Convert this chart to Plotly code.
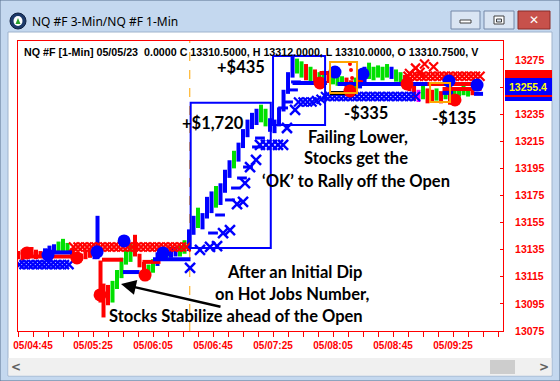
import plotly.graph_objects as go

W, H = 560, 381

# ---------------- data ----------------
x_tick_vals = [10, 50, 90, 130, 170, 210, 250, 290]
x_tick_text = ["05/04:45", "05/05:25", "05/06:05", "05/06:45",
               "05/07:25", "05/08:05", "05/08:45", "05/09:25"]
y_tick_vals = [13075, 13095, 13115, 13135, 13155, 13175, 13195, 13215, 13235, 13255, 13275]
y_tick_text = ["13075", "13095", "13115", "13135", "13155", "13175", "13195", "13215", "13235", "", "13275"]

# 1-min bars (sampled), minutes after 04:35
bar_m = [0, 3, 6, 9, 12, 15, 18, 21, 24, 27, 30, 33, 36, 39, 42, 45, 48, 51, 53,
         55, 57, 60, 63, 66, 69, 72, 75, 78, 81, 84, 87, 90, 93, 96, 99, 102, 105, 108, 111, 114,
         117, 120, 123, 126, 129, 132, 135, 138, 141, 144, 147, 150, 153, 156, 159, 162, 165, 168,
         171, 174, 177, 180, 183, 186, 189, 192, 195, 198, 201, 204, 207, 210, 213, 216, 219, 222,
         225, 228, 231, 234, 237, 240, 243, 246, 249, 252, 255, 258, 261, 264, 267, 270, 273, 276,
         279, 282, 285, 288, 291, 294, 297, 300, 303]
bar_lo = [13128, 13127, 13129, 13130, 13128, 13129, 13130, 13131, 13132, 13133, 13134, 13133, 13130,
          13128, 13127, 13128, 13129, 13128, 13128,
          13096, 13085, 13094, 13096, 13106, 13114, 13124, 13126, 13130, 13122, 13114, 13113, 13118,
          13123, 13127, 13128, 13129, 13130, 13130, 13132, 13134,
          13146, 13151, 13150, 13158, 13162, 13166, 13168, 13177, 13188, 13195, 13200, 13210, 13218,
          13224, 13227, 13229, 13226, 13222,
          13221, 13226, 13237, 13250, 13262, 13265, 13262, 13260, 13259, 13258, 13256, 13257, 13258,
          13257, 13256, 13257, 13252, 13249,
          13251, 13254, 13258, 13261, 13260, 13262, 13260, 13262, 13261, 13259, 13258, 13255, 13252,
          13245, 13244, 13246, 13243, 13244,
          13245, 13243, 13246, 13242, 13244, 13248, 13249, 13248, 13249]
bar_hi = [13134, 13135, 13136, 13137, 13135, 13134, 13136, 13138, 13139, 13141, 13143, 13140, 13136,
          13133, 13132, 13134, 13135, 13134, 13160,
          13127, 13110, 13109, 13112, 13120, 13129, 13135, 13140, 13146, 13132, 13126, 13124, 13128,
          13133, 13135, 13136, 13137, 13137, 13138, 13142, 13150,
          13160, 13166, 13162, 13174, 13178, 13182, 13184, 13194, 13201, 13208, 13214, 13224, 13231,
          13236, 13239, 13242, 13239, 13232,
          13231, 13240, 13253, 13266, 13279, 13276, 13274, 13272, 13270, 13268, 13266, 13267, 13266,
          13264, 13265, 13263, 13262, 13260,
          13262, 13264, 13270, 13273, 13270, 13271, 13270, 13272, 13270, 13268, 13266, 13264, 13262,
          13256, 13253, 13256, 13254, 13253,
          13254, 13252, 13255, 13251, 13253, 13255, 13256, 13254, 13255]
bar_col = list("rrrrrrbbbgggrrrrrbb"
               "rrrgggggrrrggbbgbbgg"
               "bbgbbbgbbbgbbbbbgg"
               "bbbbbbggrgrggrgggrr"
               "gbbgggggbggrrrmgrrgrgrggggrg")

# 3-min bands (X markers)
blue_band1_m = [1, 4, 7, 10, 13, 16, 19, 22, 25, 28, 31, 34]
blue_band1_p = [13124, 13124, 13124, 13124, 13124, 13124, 13124, 13124, 13124, 13124, 13124, 13124]
red_band1_m = [37, 40, 43, 46, 49, 52, 55, 58, 61, 64, 67, 70, 73, 76, 79, 82, 85, 88, 91, 94,
               97, 100, 103, 106, 109, 112]
red_band1_p = [13137, 13137, 13137, 13137, 13137, 13137, 13137, 13137, 13137, 13137, 13137, 13137,
               13137, 13137, 13137, 13137, 13137, 13137, 13137, 13137, 13137, 13137, 13137, 13137,
               13137, 13137]
blue_band2_m = [187, 190, 193, 196, 199, 202, 205, 208, 211, 214, 217, 220, 223, 226, 229, 232,
                235, 238, 241, 244, 247, 250, 253, 256, 259, 262, 265]
blue_band2_p = [13244, 13244, 13244, 13244, 13245, 13246, 13248, 13248, 13248, 13248, 13248, 13248,
                13248, 13248, 13248, 13248, 13248, 13248, 13248, 13248, 13248, 13248, 13248, 13248,
                13248, 13248, 13248]
red_band2_m = [260, 263, 266, 269, 272, 275, 278, 281, 284, 287, 290, 293, 296, 299, 302, 305, 308]
red_band2_p = [13263, 13263, 13263, 13263, 13263, 13263, 13263, 13263, 13263, 13263, 13263, 13263,
               13263, 13263, 13263, 13263, 13263]
red_x_m = [261, 265, 268, 271, 277]
red_x_p = [13265, 13269, 13266, 13272, 13270]

# sparse 3-min X markers in the rally
blue_x_m = [114.7, 121.3, 128, 132.7, 136.7, 141.3, 146, 150, 151.3, 154.7, 158.7, 161.3, 165.3,
            169.3, 173.3, 176.7, 179.3, 184.7]
blue_x_p = [13121.5, 13134.8, 13137, 13137.7, 13147.3, 13149.5, 13168.7, 13170.2, 13184.2, 13196,
            13201.2, 13212.3, 13212.3, 13212.3, 13212.3, 13212.3, 13224.8, 13238.1]

# small blue trailing dashes
blue_dash_m = [130, 134.7, 141.3, 145.3, 149.3, 153.3, 159.3, 161.3, 176.7, 180, 183.3, 185.3]
blue_dash_p = [13147.3, 13160.6, 13171.7, 13180.5, 13187.9, 13196, 13210.8, 13217.4, 13239.6,
               13244, 13252.9, 13258.8]

# horizontal ribbon segments: start, end, level
red_seg_m0 = [8, 56, 83, 201, 226, 268, 283]
red_seg_m1 = [40, 70, 95, 210, 230, 308, 309]
red_seg_p = [13130, 13127.6, 13126, 13265.4, 13258.8, 13257.3, 13253.6]
blue_seg_m0 = [23, 70, 90, 183, 213, 283, 304]
blue_seg_m1 = [36, 81, 115, 206, 273, 290, 310]
blue_seg_p = [13133, 13118.5, 13128, 13258, 13257.3, 13250.7, 13250]
black_seg_m0 = [208, 285]
black_seg_m1 = [225, 291]
black_seg_p = [13250.6, 13258.8]

# big dots
red_dot_m = [6, 39.3, 54.7, 84.7, 201.3, 221.3, 259.3, 291.3]
red_dot_p = [13132.6, 13128.9, 13101.6, 13116.3, 13258.0, 13252.1, 13257.3, 13245.5]
blue_dot_m = [20, 52.7, 70.7, 96.7, 211.3, 230, 287.3, 306]
blue_dot_p = [13131.1, 13133.4, 13141.5, 13132.6, 13266.1, 13264.7, 13259.5, 13256.5]
small_red_m = [221.3, 222, 222.7]
small_red_p = [13272, 13267.6, 13261.7]

# boxes (data coords)
blue_box_m0 = [115.1, 170]
blue_box_m1 = [168.5, 204.7]
blue_box_p0 = [13136.3, 13227]
blue_box_p1 = [13243.5, 13278]
orange_box_m0 = [208, 274.7]
orange_box_m1 = [226, 288]
orange_box_p0 = [13250.6, 13244]
orange_box_p1 = [13273.5, 13258]
open_m = 114.5

header = "NQ #F [1-Min] 05/05/23  0.0000 C 13310.5000, H 13312.0000, L 13310.0000, O 13310.7500, V"
last_price = "13255.4"

# ---------------- figure ----------------
COL = {"r": "#ff0000", "g": "#00e000", "b": "#0000ff", "m": "#ff00ff"}

fig = go.Figure()


def fx(px):
    return px / W


def fy(py):
    return 1 - py / H


# bars grouped by colour
for c in ["g", "r", "b", "m"]:
    xs, ys = [], []
    for m, lo, hi, cc in zip(bar_m, bar_lo, bar_hi, bar_col):
        if cc == c:
            xs += [m, m, None]
            ys += [lo, hi, None]
    fig.add_trace(go.Scatter(x=xs, y=ys, mode="lines", line=dict(color=COL[c], width=4),
                             hoverinfo="skip", showlegend=False))

# bands
for mm, pp, col in [(blue_band1_m, blue_band1_p, "#0000ff"), (red_band1_m, red_band1_p, "#ff0000"),
                    (blue_band2_m, blue_band2_p, "#0000ff"), (red_band2_m, red_band2_p, "#ff0000")]:
    fig.add_trace(go.Scatter(x=mm, y=pp, mode="markers",
                             marker=dict(symbol="x-thin-open", size=9, color=col,
                                         line=dict(width=2.2, color=col)),
                             hoverinfo="skip", showlegend=False))
fig.add_trace(go.Scatter(x=red_x_m, y=red_x_p, mode="markers",
                         marker=dict(symbol="x-thin-open", size=9, color="#ff0000",
                                     line=dict(width=2.2, color="#ff0000")),
                         hoverinfo="skip", showlegend=False))


# ribbons
def segs(m0, m1, p):
    xs, ys = [], []
    for a, b, v in zip(m0, m1, p):
        xs += [a, b, None]
        ys += [v, v, None]
    return xs, ys


for m0, m1, p, col in [(red_seg_m0, red_seg_m1, red_seg_p, "#ff0000"),
                       (blue_seg_m0, blue_seg_m1, blue_seg_p, "#0000ff"),
                       (black_seg_m0, black_seg_m1, black_seg_p, "#000000")]:
    xs, ys = segs(m0, m1, p)
    fig.add_trace(go.Scatter(x=xs, y=ys, mode="lines", line=dict(color=col, width=4),
                             hoverinfo="skip", showlegend=False))

fig.add_trace(go.Scatter(x=blue_dash_m, y=blue_dash_p, mode="markers",
                         marker=dict(symbol="line-ew-open", size=7, color="#0000ff",
                                     line=dict(width=3, color="#0000ff")),
                         hoverinfo="skip", showlegend=False))
fig.add_trace(go.Scatter(x=blue_x_m, y=blue_x_p, mode="markers",
                         marker=dict(symbol="x-thin-open", size=10, color="#0000ff",
                                     line=dict(width=2.5, color="#0000ff")),
                         hoverinfo="skip", showlegend=False))
fig.add_trace(go.Scatter(x=red_dot_m, y=red_dot_p, mode="markers",
                         marker=dict(symbol="circle", size=13, color="#ff0000"),
                         hoverinfo="skip", showlegend=False))
fig.add_trace(go.Scatter(x=blue_dot_m, y=blue_dot_p, mode="markers",
                         marker=dict(symbol="circle", size=13, color="#0000ff"),
                         hoverinfo="skip", showlegend=False))
fig.add_trace(go.Scatter(x=small_red_m, y=small_red_p, mode="markers",
                         marker=dict(symbol="circle", size=4, color="#ff0000"),
                         hoverinfo="skip", showlegend=False))

shapes = []
# window chrome
shapes.append(dict(type="rect", xref="paper", yref="paper", x0=0, x1=1, y0=0, y1=1,
                   fillcolor="#c4d8ef", line=dict(color="#59708f", width=1), layer="below"))
shapes.append(dict(type="rect", xref="paper", yref="paper", x0=fx(8), x1=fx(552), y0=fy(376), y1=fy(32),
                   fillcolor="#ffffff", line=dict(color="#9fb3cc", width=1), layer="below"))
# scrollbar
shapes.append(dict(type="rect", xref="paper", yref="paper", x0=fx(8.5), x1=fx(551.5), y0=fy(375.5), y1=fy(358),
                   fillcolor="#f0f0f0", line=dict(width=0), layer="below"))
shapes.append(dict(type="rect", xref="paper", yref="paper", x0=fx(490), x1=fx(515), y0=fy(374), y1=fy(360),
                   fillcolor="#cdcdcd", line=dict(width=0), layer="below"))
# title bar icon
shapes.append(dict(type="circle", xref="paper", yref="paper", x0=fx(10), x1=fx(26), y0=fy(29), y1=fy(13),
                   fillcolor="#1d3a6a", line=dict(color="#0f2040", width=1), layer="below"))
shapes.append(dict(type="circle", xref="paper", yref="paper", x0=fx(13.5), x1=fx(22.5), y0=fy(26), y1=fy(16),
                   fillcolor="#ffffff", line=dict(width=0), layer="below"))
shapes.append(dict(type="path", xref="paper", yref="paper",
                   path=f"M {fx(18)} {fy(18)} L {fx(15.5)} {fy(24)} L {fx(20.5)} {fy(24)} Z",
                   fillcolor="#2aa02a", line=dict(width=0), layer="below"))
# buttons
for x0, x1, fc, lc in [(451, 480, "#dae5f3", "#7488a8"), (484, 514, "#dae5f3", "#7488a8"),
                       (518, 550, "#c7514b", "#8a2c28")]:
    shapes.append(dict(type="rect", xref="paper", yref="paper", x0=fx(x0), x1=fx(x1), y0=fy(29), y1=fy(11),
                       fillcolor=fc, line=dict(color=lc, width=1), layer="below"))
shapes.append(dict(type="rect", xref="paper", yref="paper", x0=fx(460), x1=fx(471), y0=fy(23), y1=fy(20),
                   fillcolor="#ffffff", line=dict(color="#404040", width=1), layer="below"))
shapes.append(dict(type="rect", xref="paper", yref="paper", x0=fx(494), x1=fx(504), y0=fy(24), y1=fy(16),
                   fillcolor="#ffffff", line=dict(color="#404040", width=1), layer="below"))
shapes.append(dict(type="rect", xref="paper", yref="paper", x0=fx(496.5), x1=fx(501.5), y0=fy(22), y1=fy(19),
                   fillcolor="#dae5f3", line=dict(color="#404040", width=1), layer="below"))
# price labels at right axis
shapes.append(dict(type="rect", xref="paper", yref="paper", x0=fx(505), x1=fx(552), y0=fy(79), y1=fy(70),
                   fillcolor="#ff0000", line=dict(width=0)))
shapes.append(dict(type="rect", xref="paper", yref="paper", x0=fx(505), x1=fx(552), y0=fy(101), y1=fy(96),
                   fillcolor="#0000ff", line=dict(width=0)))
shapes.append(dict(type="rect", xref="paper", yref="paper", x0=fx(505), x1=fx(552), y0=fy(97), y1=fy(95),
                   fillcolor="#ff0000", line=dict(width=0)))
shapes.append(dict(type="rect", xref="paper", yref="paper", x0=fx(505), x1=fx(552), y0=fy(95), y1=fy(78),
                   fillcolor="#0000ff", line=dict(width=0)))
# boxes
for a, b, c, d in zip(blue_box_m0, blue_box_m1, blue_box_p0, blue_box_p1):
    shapes.append(dict(type="rect", xref="x", yref="y", x0=a, x1=b, y0=c, y1=d,
                       line=dict(color="#0000ff", width=2)))
for a, b, c, d in zip(orange_box_m0, orange_box_m1, orange_box_p0, orange_box_p1):
    shapes.append(dict(type="rect", xref="x", yref="y", x0=a, x1=b, y0=c, y1=d,
                       line=dict(color="#ffa500", width=2)))
shapes.append(dict(type="line", xref="x", yref="y domain", x0=open_m, x1=open_m, y0=0, y1=1,
                   line=dict(color="#ffa500", width=1, dash="dash"), layer="below"))

ann = []
FB = "Lato"


def txt(px, py, s, size=16.5, color="#000000", family=FB, anchor="center", weight="bold"):
    ann.append(dict(x=fx(px), y=fy(py), xref="paper", yref="paper", text=s, showarrow=False,
                    xanchor=anchor, yanchor="middle",
                    font=dict(family=family, size=size, color=color, weight=weight)))


txt(30, 21, "NQ #F 3-Min/NQ #F 1-Min", size=12, family="Noto Sans", anchor="left", weight="normal")
txt(534, 20, "✕", size=12, color="#ffffff", family="DejaVu Sans")
txt(16, 367, "<", size=12, color="#606060", family="DejaVu Sans")
txt(544, 367, ">", size=12, color="#606060", family="DejaVu Sans")
txt(22, 52.5, header, size=10.7, family="Liberation Sans", anchor="left")
txt(528, 86.5, last_price, size=10.5, color="#ffff00", family="Liberation Sans")
txt(241, 67, "+$435")
txt(213, 123, "+$1,720")
txt(358, 137, "Failing Lower,")
txt(356, 158, "Stocks get the")
txt(356, 181, "‘OK’ to Rally off the Open")
txt(366, 113, "-$335")
txt(454, 118, "-$135")
txt(294, 272, "After an Initial Dip")
txt(292, 294, "on Hot Jobs Number,")
txt(236, 316, "Stocks Stabilize ahead of the Open")
ann.append(dict(x=fx(121), y=fy(284), xref="paper", yref="paper", text="", showarrow=True,
                ax=101, ay=23, axref="pixel", ayref="pixel", arrowhead=2, arrowsize=1.2,
                arrowwidth=2.5, arrowcolor="#000000", standoff=0))

fig.update_layout(
    width=W, height=H, margin=dict(l=0, r=0, t=0, b=0),
    paper_bgcolor="#c4d8ef", plot_bgcolor="#ffffff",
    shapes=shapes, annotations=ann, showlegend=False,
    xaxis=dict(domain=[fx(18), fx(503)], range=[0, 323.3], showgrid=False, zeroline=False,
               showline=True, mirror=True, linecolor="#ff0000", linewidth=1,
               tickvals=x_tick_vals, ticktext=x_tick_text, ticks="outside", ticklen=5,
               tickcolor="#ff0000", automargin=False, fixedrange=True,
               minor=dict(dtick=10, tick0=0, ticks="outside", ticklen=5, tickcolor="#ff0000"),
               tickfont=dict(family="Liberation Sans", size=10, color="#ff0000", weight="bold")),
    yaxis=dict(domain=[fy(331), fy(41)], range=[13075, 13289.0], side="right", showgrid=False,
               zeroline=False, showline=True, mirror=True, linecolor="#ff0000", linewidth=1,
               tickvals=y_tick_vals, ticktext=y_tick_text, ticks="inside", ticklen=3,
               tickcolor="#ff0000", ticklabelstandoff=9, automargin=False, fixedrange=True,
               tickfont=dict(family="Liberation Sans", size=10.5, color="#ff0000", weight="bold")),
)

fig.write_html("out.html", config={"displayModeBar": False},
               post_script="document.body.style.margin='0';document.body.style.overflow='hidden';")
